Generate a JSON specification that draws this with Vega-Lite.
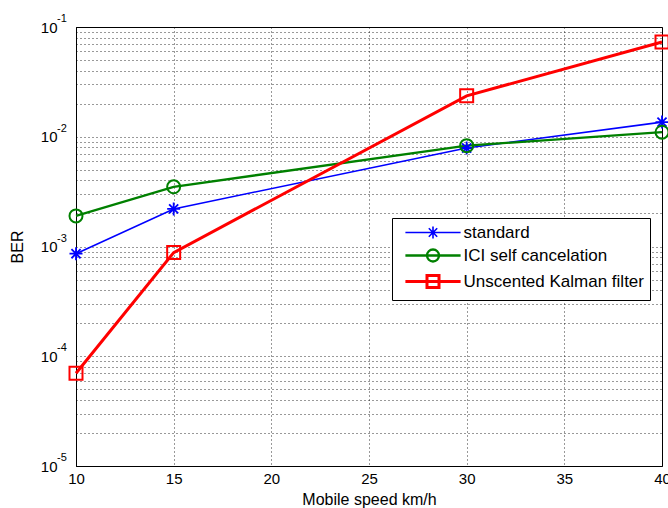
{
  "$schema": "https://vega.github.io/schema/vega-lite/v6.json",
  "width": 586,
  "height": 439,
  "autosize": "none",
  "padding": {"left": 76, "top": 27, "right": 6, "bottom": 42},
  "background": "white",
  "config": {
    "font": "Liberation Sans",
    "view": {"stroke": "black", "strokeWidth": 1},
    "axis": {
      "domainColor": "black",
      "tickColor": "black",
      "labelColor": "black",
      "titleColor": "black",
      "labelFont": "Liberation Sans",
      "titleFont": "Liberation Sans",
      "titleFontWeight": "normal",
      "grid": true,
      "gridColor": "black",
      "gridDash": [1, 3],
      "gridOpacity": 0.8,
      "gridWidth": 1
    },
    "legend": {
      "title": null,
      "orient": "none",
      "legendX": 316,
      "legendY": 191,
      "strokeColor": "black",
      "fillColor": "white",
      "cornerRadius": 0,
      "padding": 6,
      "rowPadding": 2,
      "labelFontSize": 17,
      "labelColor": "black",
      "labelFont": "Liberation Sans",
      "labelOffset": 22,
      "symbolOffset": 26.5,
      "symbolSize": 144,
      "symbolStrokeWidth": 1.8,
      "symbolOpacity": 1,
      "labelLimit": 400
    }
  },
  "datasets": {
    "ber": [
      {"speed": 10, "ber": 0.00086, "series": "standard"},
      {"speed": 15, "ber": 0.0022, "series": "standard"},
      {"speed": 30, "ber": 0.0079, "series": "standard"},
      {"speed": 40, "ber": 0.0136, "series": "standard"},
      {"speed": 10, "ber": 0.0019, "series": "ICI self cancelation"},
      {"speed": 15, "ber": 0.0035, "series": "ICI self cancelation"},
      {"speed": 30, "ber": 0.0083, "series": "ICI self cancelation"},
      {"speed": 40, "ber": 0.0110, "series": "ICI self cancelation"},
      {"speed": 10, "ber": 0.00007, "series": "Unscented Kalman filter"},
      {"speed": 15, "ber": 0.00088, "series": "Unscented Kalman filter"},
      {"speed": 30, "ber": 0.0236, "series": "Unscented Kalman filter"},
      {"speed": 40, "ber": 0.073, "series": "Unscented Kalman filter"}
    ],
    "exps": [
      {"v": 0.1, "e": "-1"},
      {"v": 0.01, "e": "-2"},
      {"v": 0.001, "e": "-3"},
      {"v": 0.0001, "e": "-4"},
      {"v": 0.00001, "e": "-5"}
    ]
  },
  "layer": [
    {
      "data": {"name": "ber"},
      "mark": {"type": "line", "clip": false},
      "encoding": {
        "x": {
          "field": "speed", "type": "quantitative",
          "scale": {"domain": [10, 40], "nice": false, "zero": false},
          "axis": {
            "title": "Mobile speed km/h",
            "values": [10, 15, 20, 25, 30, 35, 40],
            "labelFontSize": 15,
            "titleFontSize": 16,
            "labelPadding": 5,
            "titlePadding": 5,
            "ticks": false,
            "labelFlush": false
          }
        },
        "y": {
          "field": "ber", "type": "quantitative",
          "scale": {"type": "log", "domain": [0.00001, 0.1], "nice": false},
          "axis": {
            "title": "BER",
            "values": [0.00001, 0.00002, 0.00003, 0.00004, 0.00005, 0.00006, 0.00007, 0.00008, 0.00009,
                       0.0001, 0.0002, 0.0003, 0.0004, 0.0005, 0.0006, 0.0007, 0.0008, 0.0009,
                       0.001, 0.002, 0.003, 0.004, 0.005, 0.006, 0.007, 0.008, 0.009,
                       0.01, 0.02, 0.03, 0.04, 0.05, 0.06, 0.07, 0.08, 0.09, 0.1],
            "labelExpr": "abs(log(datum.value)/LN10 - round(log(datum.value)/LN10)) < 0.000001 ? '10' : ''",
            "labelFontSize": 15,
            "titleFontSize": 16,
            "labelPadding": 19,
            "titlePadding": 15,
            "ticks": false,
            "labelFlush": false,
            "labelOverlap": false
          }
        },
        "color": {
          "field": "series", "type": "nominal",
          "scale": {"domain": ["standard", "ICI self cancelation", "Unscented Kalman filter"], "range": ["#0000ff", "#008000", "#ff0000"]},
          "legend": {
            "encode": {
              "symbols": {
                "update": {
                  "shape": {"signal": "datum.value === 'standard' ? 'M-4.6,0H4.6M0,-1V1M-0.7,-0.7L0.7,0.7M-0.7,0.7L0.7,-0.7' : datum.value === 'ICI self cancelation' ? 'M-4.6,0H4.6M-1,0A1,1,0,1,1,1,0A1,1,0,1,1,-1,0' : 'M-4.6,0H4.6M-1,-1H1V1H-1Z'"},
                  "strokeWidth": {"signal": "datum.value === 'ICI self cancelation' ? 2.5 : 1.8"},
                  "size": {"value": 144},
                  "opacity": {"value": 1}
                }
              }
            }
          }
        },
        "strokeWidth": {
          "field": "series", "type": "nominal",
          "scale": {"domain": ["standard", "ICI self cancelation", "Unscented Kalman filter"], "range": [1.6, 3, 2]},
          "legend": null
        }
      }
    },
    {
      "data": {"name": "ber"},
      "transform": [{"filter": "datum.series === 'standard'"}],
      "mark": {"type": "point", "filled": false, "opacity": 1, "size": 169, "clip": false, "strokeWidth": 1.8, "shape": "M-1,0H1M0,-1V1M-0.7,-0.7L0.7,0.7M-0.7,0.7L0.7,-0.7"},
      "encoding": {
        "x": {"field": "speed", "type": "quantitative"},
        "y": {"field": "ber", "type": "quantitative"},
        "color": {"field": "series", "type": "nominal"}
      }
    },
    {
      "data": {"name": "ber"},
      "transform": [{"filter": "datum.series === 'ICI self cancelation'"}],
      "mark": {"type": "point", "filled": false, "opacity": 1, "size": 169, "clip": false, "strokeWidth": 2, "shape": "circle"},
      "encoding": {
        "x": {"field": "speed", "type": "quantitative"},
        "y": {"field": "ber", "type": "quantitative"},
        "color": {"field": "series", "type": "nominal"}
      }
    },
    {
      "data": {"name": "ber"},
      "transform": [{"filter": "datum.series === 'Unscented Kalman filter'"}],
      "mark": {"type": "point", "filled": false, "opacity": 1, "size": 169, "clip": false, "strokeWidth": 2, "shape": "square"},
      "encoding": {
        "x": {"field": "speed", "type": "quantitative"},
        "y": {"field": "ber", "type": "quantitative"},
        "color": {"field": "series", "type": "nominal"}
      }
    },
    {
      "data": {"name": "exps"},
      "mark": {"type": "text", "align": "left", "baseline": "middle", "dx": -19, "dy": -8, "fontSize": 11, "font": "Liberation Sans", "color": "black"},
      "encoding": {
        "x": {"datum": 10, "type": "quantitative"},
        "y": {"field": "v", "type": "quantitative"},
        "text": {"field": "e", "type": "nominal"}
      }
    }
  ]
}
